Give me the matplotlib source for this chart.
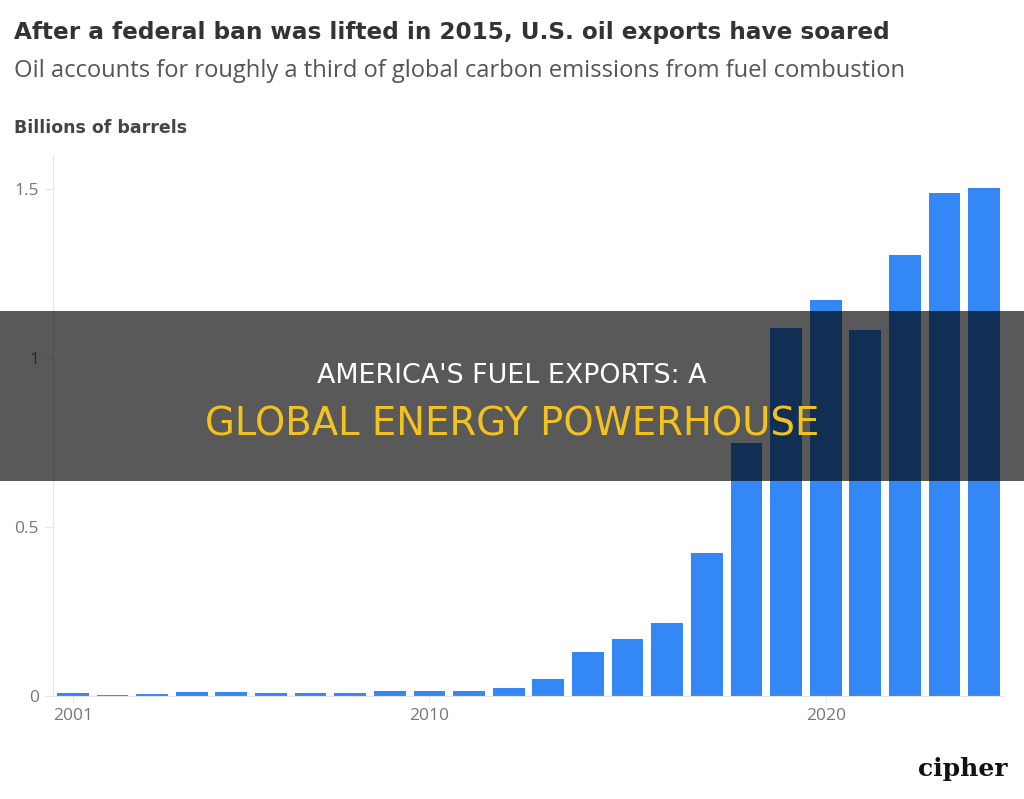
import matplotlib
matplotlib.use("Agg")
import matplotlib.pyplot as plt
from matplotlib.patches import Rectangle

# ── data ─────────────────────────────────────────────────────
years = list(range(2001, 2025))
exports = [0.009, 0.003, 0.006, 0.011, 0.012, 0.009, 0.010, 0.010,
           0.015, 0.014, 0.016, 0.024, 0.049, 0.129, 0.170, 0.216,
           0.423, 0.747, 1.087, 1.172, 1.081, 1.304, 1.488, 1.502]
y_ticks = [0, 0.5, 1, 1.5]
y_tick_labels = ["0", "0.5", "1", "1.5"]
x_ticks = [2001, 2010, 2020]

title = "After a federal ban was lifted in 2015, U.S. oil exports have soared"
subtitle = "Oil accounts for roughly a third of global carbon emissions from fuel combustion"
unit_label = "Billions of barrels"
banner_1 = "AMERICA'S FUEL EXPORTS: A"
banner_2 = "GLOBAL ENERGY POWERHOUSE"
# ─────────────────────────────────────────────────────────────

W, H = 1024, 799
fig = plt.figure(figsize=(W / 100, H / 100), dpi=100)
fig.patch.set_facecolor("white")

def fx(px):
    return px / W

def fy(py):
    return 1 - py / H

ax = fig.add_axes([fx(53), fy(696), fx(1004) - fx(53), fy(155) - fy(696)])
ax.bar(years, exports, width=0.8, color="#3388f5", zorder=2)

ax.set_xlim(2000.5, 2024.5)
ax.set_ylim(0, 1.6)
ax.set_yticks(y_ticks)
ax.set_yticklabels(y_tick_labels)
ax.set_xticks(x_ticks)

for s in ["top", "right"]:
    ax.spines[s].set_visible(False)
ax.spines["left"].set_color("#e6e6e6")
ax.spines["bottom"].set_color("#e6e6e6")
ax.tick_params(axis="y", length=6, color="#e6e6e6", pad=4,
               labelsize=12.5, labelcolor="#777777")
ax.tick_params(axis="x", length=5, color="#e6e6e6", pad=4,
               labelsize=12.5, labelcolor="#777777")
for lab in ax.get_xticklabels() + ax.get_yticklabels():
    lab.set_family("Open Sans")

# títulos
fig.text(fx(14), fy(39), title, ha="left", va="baseline",
         fontsize=16.7, fontweight="bold", color="#333333", family="DejaVu Sans")
fig.text(fx(14), fy(77), subtitle, ha="left", va="baseline",
         fontsize=17.1, color="#555555", family="Open Sans")
fig.text(fx(14), fy(133), unit_label, ha="left", va="baseline",
         fontsize=12.5, fontweight="bold", color="#444444", family="DejaVu Sans")

# faixa escura por cima do gráfico
fig.patches.append(Rectangle((0, fy(481)), 1, fy(311) - fy(481),
                             transform=fig.transFigure, facecolor="black",
                             alpha=0.65, edgecolor="none", zorder=5))
fig.text(0.5, fy(383), banner_1, ha="center", va="baseline", fontsize=19.4,
         color="white", family="DejaVu Sans", zorder=6)
fig.text(0.5, fy(436), banner_2, ha="center", va="baseline", fontsize=27.8,
         color="#f4c21f", family="DejaVu Sans", zorder=6)

# logo
fig.text(fx(963), fy(776), "cipher", ha="center", va="baseline", fontsize=18,
         fontweight="bold", color="#111111", family="DejaVu Serif")

fig.savefig("out.png", dpi=100)
